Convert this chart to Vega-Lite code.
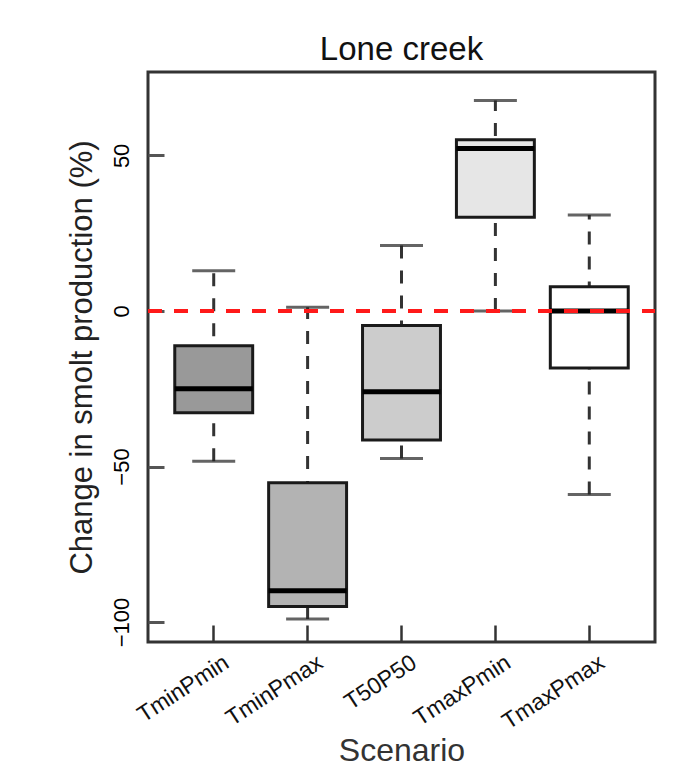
{
  "$schema": "https://vega.github.io/schema/vega-lite/v6.json",
  "autosize": {"type": "none"},
  "width": 507,
  "height": 570,
  "padding": {"left": 148, "top": 72, "right": 43, "bottom": 139},
  "background": "white",
  "config": {
    "font": "Liberation Sans",
    "view": {"stroke": "#333333", "strokeWidth": 3},
    "axis": {"grid": false, "domain": false}
  },
  "title": {
    "text": "Lone creek",
    "fontSize": 33,
    "fontWeight": "normal",
    "color": "#111111",
    "anchor": "middle",
    "offset": 5
  },
  "data": {
    "values": [
      {"scenario": "TminPmin", "lower": -48.3, "q1": -32.7, "median": -25.0, "q3": -11.2, "upper": 12.9},
      {"scenario": "TminPmax", "lower": -99.0, "q1": -95.0, "median": -89.9, "q3": -55.2, "upper": 1.2},
      {"scenario": "T50P50", "lower": -47.4, "q1": -41.5, "median": -26.0, "q3": -4.7, "upper": 21.0},
      {"scenario": "TmaxPmin", "lower": 0.0, "q1": 30.1, "median": 52.2, "q3": 55.0, "upper": 67.6},
      {"scenario": "TmaxPmax", "lower": -59.0, "q1": -18.3, "median": 0.0, "q3": 7.8, "upper": 30.8}
    ]
  },
  "encoding": {
    "x": {
      "field": "scenario",
      "type": "nominal",
      "sort": ["TminPmin", "TminPmax", "T50P50", "TmaxPmin", "TmaxPmax"],
      "scale": {"paddingInner": 0.17, "paddingOuter": 0.285},
      "axis": {
        "title": "Scenario",
        "titleFontSize": 32,
        "titleFontWeight": "normal",
        "titleColor": "#333333",
        "titleY": 93,
        "titleBaseline": "top",
        "labelAngle": -33,
        "labelAlign": "right",
        "labelBaseline": "top",
        "labelFontSize": 23,
        "labelColor": "#111111",
        "labelOffset": 7,
        "labelPadding": 26,
        "tickSize": -17,
        "tickWidth": 2.5,
        "tickColor": "#333333",
        "encode": {
          "labels": {
            "update": {
              "x": {
                "scale": "x",
                "field": "value",
                "band": 0.5,
                "offset": {"signal": "datum.value === 'TmaxPmin' ? 21 : datum.value === 'TmaxPmax' ? 27 : 7"}
              }
            }
          }
        }
      }
    }
  },
  "layer": [
    {
      "mark": {"type": "rule", "color": "#333333", "strokeWidth": 3, "strokeDash": [13, 12]},
      "encoding": {
        "y": {
          "field": "lower",
          "type": "quantitative",
          "scale": {"domain": [-106.4, 76.8], "nice": false, "zero": false},
          "axis": {
            "title": "Change in smolt production (%)",
            "titleFontSize": 31,
            "titleFontWeight": "normal",
            "titleColor": "#222222",
            "titleAngle": -90,
            "titleX": -81,
            "titleY": 285,
            "titleAlign": "center",
            "titleBaseline": "top",
            "values": [-100, -50, 0, 50],
            "labelAngle": -90,
            "labelAlign": "center",
            "labelBaseline": "bottom",
            "labelFontSize": 22,
            "labelColor": "#000000",
            "labelPadding": 31,
            "tickSize": -16,
            "tickWidth": 3,
            "tickColor": "#555555"
          }
        },
        "y2": {"field": "upper"}
      }
    },
    {
      "mark": {"type": "tick", "color": "#222222", "size": 43, "thickness": 3},
      "encoding": {"y": {"field": "lower", "type": "quantitative"}}
    },
    {
      "mark": {"type": "tick", "color": "#222222", "size": 43, "thickness": 3},
      "encoding": {"y": {"field": "upper", "type": "quantitative"}}
    },
    {
      "mark": {"type": "bar", "stroke": "#1a1a1a", "strokeWidth": 3, "opacity": 1},
      "encoding": {
        "y": {"field": "q1", "type": "quantitative"},
        "y2": {"field": "q3"},
        "fill": {
          "field": "scenario",
          "type": "nominal",
          "scale": {
            "domain": ["TminPmin", "TminPmax", "T50P50", "TmaxPmin", "TmaxPmax"],
            "range": ["#999999", "#b3b3b3", "#cccccc", "#e6e6e6", "#ffffff"]
          },
          "legend": null
        }
      }
    },
    {
      "mark": {"type": "tick", "color": "#000000", "size": 78, "thickness": 5, "opacity": 1},
      "encoding": {"y": {"field": "median", "type": "quantitative"}}
    },
    {
      "mark": {"type": "rule", "color": "#ff1a1a", "strokeWidth": 3.5, "strokeDash": [14, 12]},
      "encoding": {"y": {"datum": 0, "type": "quantitative"}, "x": {"value": 0}, "x2": {"value": 507}}
    }
  ]
}
